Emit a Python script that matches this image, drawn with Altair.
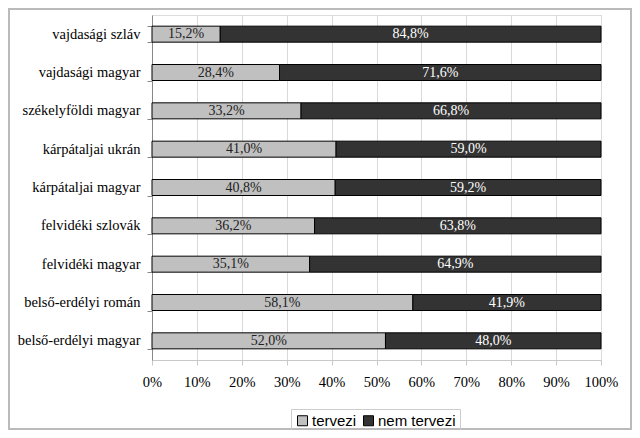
import altair as alt
import pandas as pd

categories = ["vajdasági szláv", "vajdasági magyar", "székelyföldi magyar",
              "kárpátaljai ukrán", "kárpátaljai magyar", "felvidéki szlovák",
              "felvidéki magyar", "belső-erdélyi román", "belső-erdélyi magyar"]
tervezi = [15.2, 28.4, 33.2, 41.0, 40.8, 36.2, 35.1, 58.1, 52.0]
nem_tervezi = [84.8, 71.6, 66.8, 59.0, 59.2, 63.8, 64.9, 41.9, 48.0]
series = ["tervezi", "nem tervezi"]
colors = ["#c0c0c0", "#333333"]
x_ticks = [0, 10, 20, 30, 40, 50, 60, 70, 80, 90, 100]

SERIF = "Liberation Serif"
SANS = "Liberation Sans"

rows = []
for c, t, n in zip(categories, tervezi, nem_tervezi):
    rows.append({"cat": c, "series": "tervezi", "start": 0, "end": t,
                 "mid": t / 2, "label": f"{t:.1f}".replace(".", ",") + "%"})
    rows.append({"cat": c, "series": "nem tervezi", "start": t, "end": t + n,
                 "mid": t + n / 2, "label": f"{n:.1f}".replace(".", ",") + "%"})
df = pd.DataFrame(rows)

W, H = 449, 345
PL, PT, PR, PB = 144, 7, 31, 70

y_enc = alt.Y("cat:N", sort=categories, title=None,
              scale=alt.Scale(paddingInner=0.58, paddingOuter=0.29),
              axis=alt.Axis(labelFont=SERIF, labelFontSize=14.5,
                            labelColor="#000", labelPadding=7, tickBand="extent",
                            domainColor="#888", tickColor="#888", tickSize=5,
                            grid=False))

bars = alt.Chart(df).mark_bar(stroke="#000", strokeWidth=1, size=16).encode(
    x=alt.X("start:Q", scale=alt.Scale(domain=[0, 100], nice=False), title=None,
            axis=alt.Axis(values=x_ticks, labelExpr="datum.value + '%'",
                          labelFont=SERIF, labelFontSize=14.5, labelFlush=False,
                          labelOverlap=False,
                          labelColor="#000", labelPadding=10,
                          grid=True, gridColor="#d9d9d9", domainColor="#c8c8c8",
                          tickColor="#c8c8c8", tickSize=5)),
    x2="end:Q",
    y=y_enc,
    color=alt.Color("series:N", scale=alt.Scale(domain=series, range=colors),
                    title=None,
                    legend=alt.Legend(orient="none", legendX=139, legendY=394,
                                      direction="horizontal", symbolType="square",
                                      symbolSize=100, symbolStrokeColor="#000",
                                      symbolStrokeWidth=1, labelFont=SANS,
                                      labelFontSize=15, labelColor="#000",
                                      strokeColor="#cccccc", padding=4,
                                      columnPadding=4, labelOffset=2)),
)

texts = alt.Chart(df).mark_text(font=SERIF, fontSize=14).encode(
    x="mid:Q",
    y=alt.Y("cat:N", sort=categories),
    text="label:N",
    color=alt.Color("series:N", scale=alt.Scale(domain=series, range=["#222", "#fff"]),
                    legend=None),
)

border = alt.Chart(df).mark_rect(fill=None, stroke="#bbb", strokeWidth=1.5, clip=False).encode(
    x=alt.value(-PL + 1), x2=alt.value(W + PR - 1),
    y=alt.value(-PT + 1), y2=alt.value(H + PB - 1))

chart = alt.layer(border, bars, texts).resolve_scale(color="independent").properties(
    width=W, height=H,
    autosize=alt.AutoSizeParams(type="none"),
    padding={"left": PL, "top": PT, "right": PR, "bottom": PB},
).configure_view(stroke=None).configure(background="white")

chart.save("out.html", embed_options={"renderer": "svg", "actions": False})
